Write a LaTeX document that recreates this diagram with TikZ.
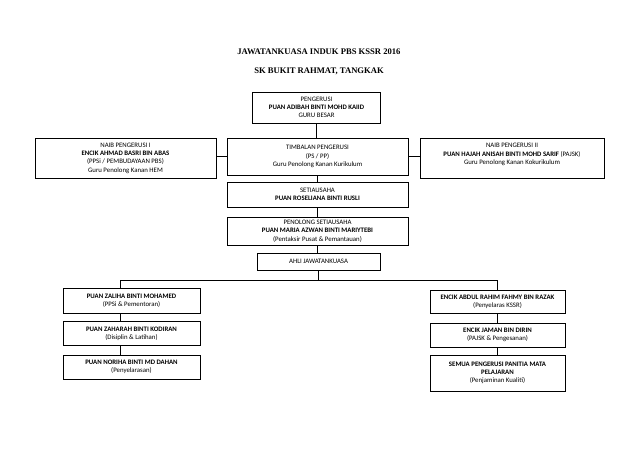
\documentclass[tikz,border=0pt]{standalone}
\usepackage{fontspec}
\setmainfont{Carlito}
\newfontfamily\titlefamily{Liberation Serif}
\begin{document}
\begin{tikzpicture}[x=1pt, y=-1pt,
  box/.style={draw, line width=0.8pt, inner sep=1pt, align=center,
              font=\fontsize{6.8}{8.3}\selectfont},
  title/.style={font=\titlefamily\bfseries\fontsize{8.6}{10}\selectfont},
  ln/.style={line width=0.8pt}
]
\useasboundingbox[fill=white] (0,0) rectangle (638,452);

\node[title] (tajuk)   at (319,52) {JAWATANKUASA INDUK PBS KSSR 2016};
\node[title] (sekolah) at (319,71) {SK BUKIT RAHMAT, TANGKAK};

\node[box, minimum width=128pt, minimum height=31pt] (peng) at (316.5,107.5)
  {PENGERUSI\\\textbf{PUAN ADIBAH BINTI MOHD KAIID}\\GURU BESAR};
\node[box, minimum width=181pt, minimum height=40pt] (naib1) at (125.5,158)
  {NAIB PENGERUSI I\\\textbf{ENCIK AHMAD BASRI BIN ABAS}\\(PPSi / PEMBUDAYAAN PBS)\\Guru Penolong Kanan HEM};
\node[box, minimum width=181pt, minimum height=37pt] (timb) at (317.5,156.5)
  {TIMBALAN PENGERUSI\\(PS / PP)\\Guru Penolong Kanan Kurikulum};
\node[box, minimum width=184pt, minimum height=40pt] (naib2) at (512,158)
  {NAIB PENGERUSI II\\\textbf{PUAN HAJAH ANISAH BINTI MOHD SARIF} (PAJSK)\\Guru Penolong Kanan Kokurikulum\\\mbox{}};
\node[box, minimum width=181pt, minimum height=25pt] (seti) at (317.5,194.5)
  {SETIAUSAHA\\\textbf{PUAN ROSELIANA BINTI RUSLI}};
\node[box, minimum width=181pt, minimum height=28pt] (penol) at (317.5,231)
  {PENOLONG SETIAUSAHA\\\textbf{PUAN MARIA AZWAN BINTI MARIYTEBI}\\(Pentaksir Pusat \& Pemantauan)};
\node[box, minimum width=123pt, minimum height=17pt] (ahli) at (318.5,261.5)
  {AHLI JAWATANKUASA};

% ahli jawatankuasa
\node[box, minimum width=137pt, minimum height=25pt] (kiri1) at (131.5,300.5)
  {\textbf{PUAN ZALIHA BINTI MOHAMED}\\(PPSi \& Pementoran)};
\node[box, minimum width=137pt, minimum height=24pt] (kiri2) at (131.5,333.5)
  {\textbf{PUAN ZAHARAH BINTI KODIRAN}\\(Disiplin \& Latihan)};
\node[box, minimum width=137pt, minimum height=24pt] (kiri3) at (131.5,367)
  {\textbf{PUAN NORIHA BINTI MD DAHAN}\\(Penyelarasan)};
\node[box, minimum width=135pt, minimum height=23pt] (kanan1) at (497.5,302)
  {\textbf{ENCIK ABDUL RAHIM FAHMY BIN RAZAK}\\(Penyelaras KSSR)};
\node[box, minimum width=135pt, minimum height=24pt] (kanan2) at (497.5,335)
  {\textbf{ENCIK JAMAN BIN DIRIN}\\(PAJSK \& Pengesanan)};
\node[box, minimum width=135pt, minimum height=36pt] (kanan3) at (497.5,373)
  {\textbf{SEMUA PENGERUSI PANITIA MATA}\\\textbf{PELAJARAN}\\(Penjaminan Kualiti)};

\coordinate (busL) at (120,280);
\coordinate (busR) at (497.5,280);

\draw[ln] (peng) -- (peng |- timb.north);
\draw[ln] (timb.west) -- (timb.west -| naib1.east);
\draw[ln] (timb.east) -- (timb.east -| naib2.west);
\draw[ln] (timb) -- (seti);
\draw[ln] (seti) -- (penol);
\draw[ln] (penol) -- (penol |- ahli.north);
\draw[ln] (ahli.south) -- (ahli.south |- busL);
\draw[ln] (busL) -- (busR);
\draw[ln] (busL) -- (busL |- kiri1.north);
\draw[ln] (kiri1.south -| busL) -- (kiri2.north -| busL);
\draw[ln] (kiri2.south -| busL) -- (kiri3.north -| busL);
\draw[ln] (busR) -- (kanan1.north);
\draw[ln] (kanan1) -- (kanan2);
\draw[ln] (kanan2) -- (kanan3);
\end{tikzpicture}
\end{document}
